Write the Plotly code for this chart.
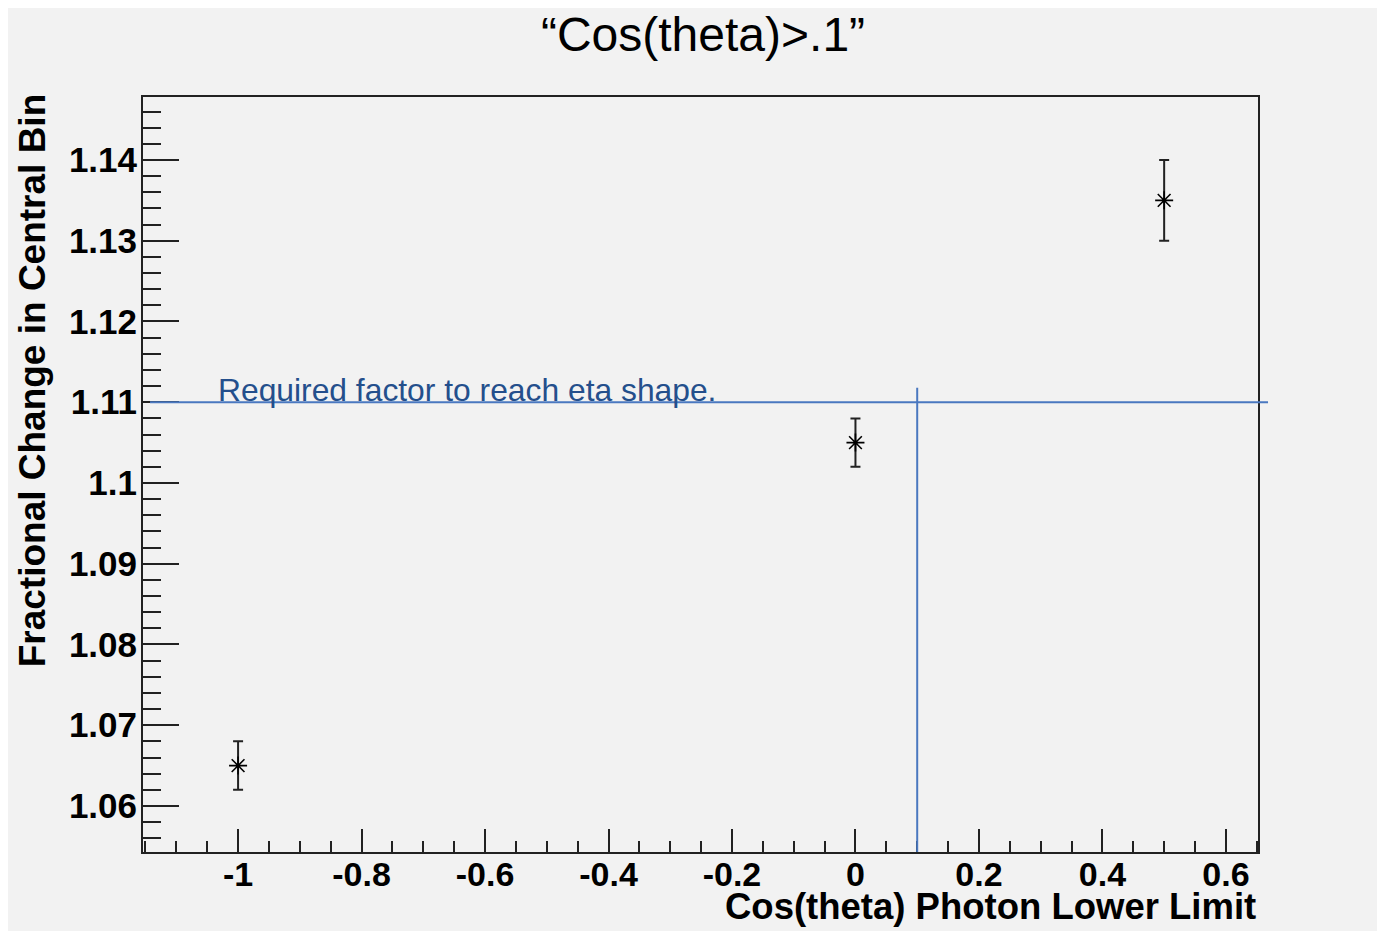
import plotly.graph_objects as go

# ---- data ----
cos_lower = [-1.0, 0.0, 0.5]
frac_change = [1.065, 1.105, 1.135]
frac_err = [0.003, 0.003, 0.005]

x_tick_vals = [-1.0, -0.8, -0.6, -0.4, -0.2, 0.0, 0.2, 0.4, 0.6]
x_tick_text = ["-1", "-0.8", "-0.6", "-0.4", "-0.2", "0", "0.2", "0.4", "0.6"]
y_tick_vals = [1.06, 1.07, 1.08, 1.09, 1.10, 1.11, 1.12, 1.13, 1.14]
y_tick_text = ["1.06", "1.07", "1.08", "1.09", "1.1", "1.11", "1.12", "1.13", "1.14"]

required_factor = 1.11
cos_cut = 0.1

title_text = "\u201cCos(theta)>.1\u201d"
x_title = "Cos(theta) Photon Lower Limit"
y_title = "Fractional Change in Central Bin"
note_text = "Required factor to reach eta shape."

x_range = [-1.154, 0.652]
y_range = [1.0543, 1.1478]

W, H = 1369, 923
ML, MT, PW, PH = 135, 89, 1115, 755
MR = W - ML - PW
MB = H - MT - PH

fig = go.Figure()
fig.add_trace(go.Scatter(
    x=cos_lower, y=frac_change, mode="markers",
    marker=dict(symbol="asterisk-open", size=15, color="black",
                line=dict(color="black", width=1.6)),
    error_y=dict(type="data", array=frac_err, visible=True,
                 color="#222222", thickness=2, width=5),
    showlegend=False, cliponaxis=False,
))

blue_line = "#4a78c0"
fig.add_shape(type="line", xref="paper", yref="y",
              x0=0.0063, x1=1.009, y0=required_factor, y1=required_factor,
              line=dict(color=blue_line, width=2))
fig.add_shape(type="line", xref="x", yref="y",
              x0=cos_cut, x1=cos_cut, y0=y_range[0], y1=1.1118,
              line=dict(color=blue_line, width=2))

fig.add_annotation(x=-1.036, y=1.1115, xref="x", yref="y", text=note_text,
                   showarrow=False, xanchor="left", yanchor="middle",
                   font=dict(family="Liberation Sans", size=31.8, color="#244f8c"))

fig.add_annotation(x=1.0, y=-0.0728, xref="paper", yref="paper", text=x_title,
                   showarrow=False, xanchor="right", yanchor="middle",
                   font=dict(family="Liberation Sans", size=36.5, color="black", weight="bold"))
fig.add_annotation(x=-0.099, y=1.007, xref="paper", yref="paper", text=y_title,
                   showarrow=False, textangle=-90, xanchor="center", yanchor="top",
                   font=dict(family="Liberation Sans", size=37, color="black", weight="bold"))

axis_common = dict(showgrid=False, zeroline=False, showline=True, linecolor="#222222",
                   linewidth=2, mirror=True, ticks="inside", tickcolor="#222222",
                   tickwidth=2, tickmode="array")

fig.update_layout(
    width=W, height=H,
    margin=dict(l=ML, r=MR, t=MT, b=MB, pad=0),
    paper_bgcolor="#f2f2f2", plot_bgcolor="#f2f2f2",
    title=dict(text=title_text, x=695 / W, xref="container", xanchor="center",
               y=1 - 26 / H, yanchor="middle", yref="container",
               font=dict(family="Liberation Sans", size=48, color="black")),
    xaxis=dict(range=x_range, tickvals=x_tick_vals, ticktext=x_tick_text, ticklen=23,
               ticklabelstandoff=-9,
               tickfont=dict(family="Liberation Sans", size=34, color="black", weight="bold"),
               minor=dict(tickmode="linear", tick0=0, dtick=0.05, ticklen=11,
                          ticks="inside", tickcolor="#222222", tickwidth=2),
               **axis_common),
    yaxis=dict(range=y_range, tickvals=y_tick_vals, ticktext=y_tick_text, ticklen=36,
               ticklabelstandoff=-3,
               tickfont=dict(family="Liberation Sans", size=35, color="black", weight="bold"),
               minor=dict(tickmode="linear", tick0=1.0, dtick=0.002, ticklen=18,
                          ticks="inside", tickcolor="#222222", tickwidth=2),
               **axis_common),
)

fig.write_html("out.html")
